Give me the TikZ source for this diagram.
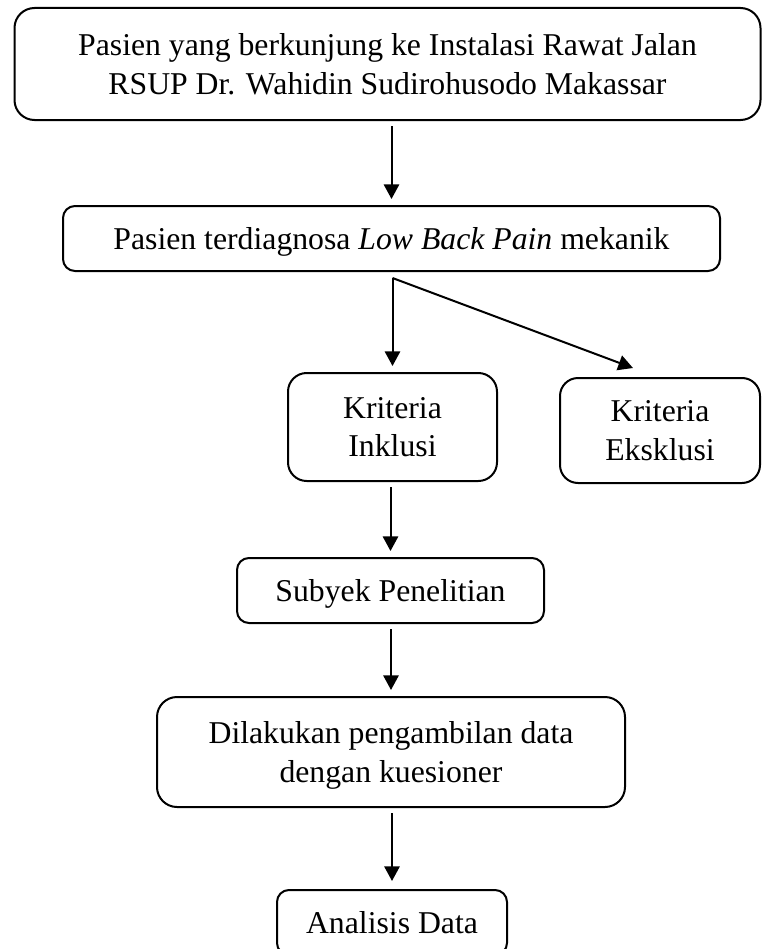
\documentclass[tikz,border=0pt]{standalone}
\usepackage{fontspec}
\setmainfont{Liberation Serif}
\usetikzlibrary{arrows.meta,calc}
\begin{document}
\begin{tikzpicture}[x=0.75pt,y=-0.75pt,
  box/.style={draw,line width=1.5pt,align=center,inner sep=0pt,text depth=0pt,
    font=\fontsize{23.8}{29}\selectfont},
  arr/.style={line width=1.5pt,-{Triangle[length=11pt,width=11.5pt]}}]
\useasboundingbox (0,0) rectangle (762,949);
\node[box,rounded corners=15pt,minimum width=559.5pt,minimum height=84pt] (b1) at (387.5,64)
  {Pasien yang berkunjung ke Instalasi Rawat Jalan\\RSUP Dr. Wahidin Sudirohusodo Makassar};
\node[box,rounded corners=9pt,minimum width=492.75pt,minimum height=48.75pt] (b2) at (391.5,238.5)
  {Pasien terdiagnosa \textit{Low Back Pain} mekanik};
\node[box,rounded corners=14pt,minimum width=156.75pt,minimum height=81pt] (inc) at (392.5,427)
  {Kriteria\\Inklusi};
\node[box,rounded corners=13.5pt,minimum width=150pt,minimum height=78.75pt] (exc) at (660,430.5)
  {Kriteria\\Eksklusi};
\node[box,rounded corners=9pt,minimum width=230.25pt,minimum height=48.75pt] (sub) at (390.5,590.5)
  {Subyek Penelitian};
\node[box,rounded corners=15pt,minimum width=351pt,minimum height=82.5pt] (dil) at (391,752)
  {Dilakukan pengambilan data\\dengan kuesioner};
\node[box,rounded corners=9pt,minimum width=172.5pt,minimum height=48.75pt] (ana) at (392,922.5)
  {Analisis Data};
\coordinate (split) at ($(inc.north |- b2.south)+(0,-4.5pt)$);
\coordinate (excend) at ($(exc.north)+(-20.25pt,6.75pt)$);
\draw[arr,shorten <=3.75pt,shorten >=4.5pt] (b2.north |- b1.south) -- (b2.north);
\draw[arr,shorten >=4.5pt] (split) -- (inc.north);
\draw[arr] (split) -- (excend);
\draw[arr,shorten <=3.75pt,shorten >=4.5pt] (sub.north |- inc.south) -- (sub.north);
\draw[arr,shorten <=3.75pt,shorten >=4.5pt] (dil.north |- sub.south) -- (dil.north);
\draw[arr,shorten <=3.75pt,shorten >=6pt] (ana.north |- dil.south) -- (ana.north);
\end{tikzpicture}
\end{document}
